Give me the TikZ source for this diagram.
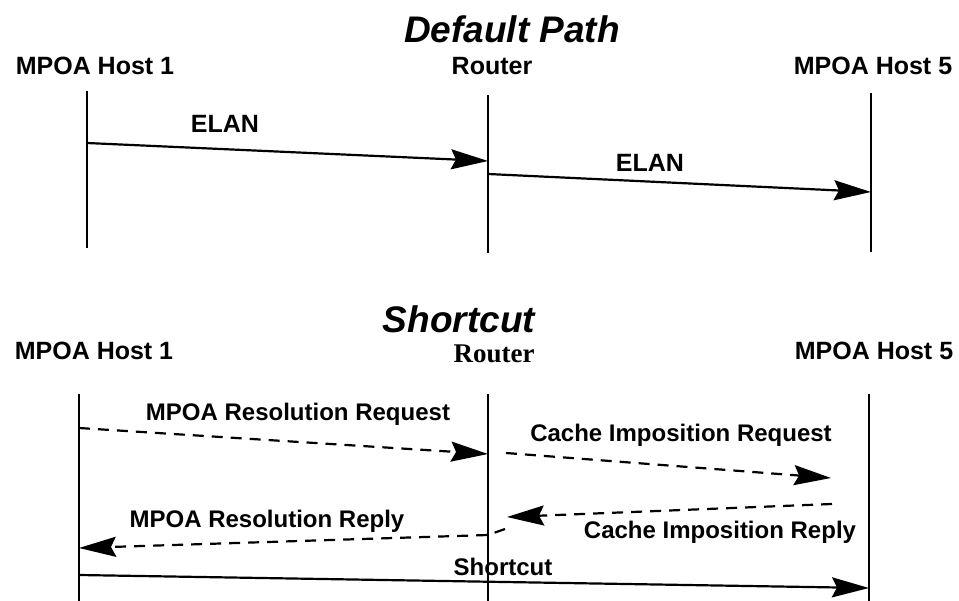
\documentclass[tikz,border=0pt]{standalone}
\usepackage{fontspec}
\setmainfont{Liberation Sans}
\newfontfamily\serifrouter{Liberation Serif}
\usetikzlibrary{arrows.meta, positioning, calc}

\begin{document}
\begin{tikzpicture}[x=1pt, y=-1pt,
    lifeline/.style={line width=2.2pt},
    msg/.style={line width=2.2pt, -{Stealth[length=37pt, width=20pt, inset=5pt]}},
    dmsg/.style={msg, dash pattern=on 11pt off 8pt},
    title/.style={anchor=base, font=\fontsize{37}{40}\selectfont\bfseries\itshape},
    host/.style={anchor=base, font=\fontsize{25}{28}\selectfont\bfseries},
    lbl/.style={anchor=base, font=\fontsize{24}{28}\selectfont\bfseries}]
    \useasboundingbox (0,0) rectangle (959,601);

    % Default path: titles and lifelines
    \node[title] (dtitle) at (512,43) {Default Path};
    \node[host] (dhostA) at (95,75) {MPOA Host 1};
    \node[host] (drouter) at (492,75) {Router};
    \node[host] (dhostB) at (873,75) {MPOA Host 5};
    \coordinate (dA1) at (87,91);   \coordinate (dA2) at (87,248);
    \coordinate (dR1) at (488,95);  \coordinate (dR2) at (488,253);
    \coordinate (dB1) at (871,93);  \coordinate (dB2) at (871,252);
    \draw[lifeline] (dA1) -- (dA2);
    \draw[lifeline] (dR1) -- (dR2);
    \draw[lifeline] (dB1) -- (dB2);

    % Default path: messages
    \coordinate (elanAs) at (87,143);  \coordinate (elanAe) at (488,161);
    \coordinate (elanBs) at (488,174); \coordinate (elanBe) at (871,192);
    \draw[msg] (elanAs) -- (elanAe);
    \draw[msg] (elanBs) -- (elanBe);
    \node[host] (elanA) at (225,133) {ELAN};
    \node[host] (elanB) at (650,172) {ELAN};

    % Shortcut: titles and lifelines
    \node[title] (stitle) at (459,333) {Shortcut};
    \node[host] (shostA) at (94,360) {MPOA Host 1};
    \node[anchor=base, font=\fontsize{27}{30}\selectfont\serifrouter\bfseries] (srouter) at (494,363) {Router};
    \node[host] (shostB) at (874,360) {MPOA Host 5};
    \coordinate (sA1) at (79,394);  \coordinate (sA2) at (79,601);
    \coordinate (sR1) at (488,394); \coordinate (sR2) at (488,601);
    \coordinate (sB1) at (869,394); \coordinate (sB2) at (869,601);
    \draw[lifeline] (sA1) -- (sA2);
    \draw[lifeline] (sR1) -- (sR2);
    \draw[lifeline] (sB1) -- (sB2);

    % Shortcut: resolution and imposition messages
    \coordinate (resqs) at (79,428);  \coordinate (resqe) at (488,454);
    \coordinate (cimqs) at (506,453); \coordinate (cimqe) at (831,478);
    \coordinate (cimps) at (832,504); \coordinate (cimpe) at (507,517);
    \coordinate (resps) at (505,529); \coordinate (respk) at (488,535);
    \coordinate (respe) at (79,548);
    \draw[dmsg] (resqs) -- (resqe);
    \draw[dmsg] (cimqs) -- (cimqe);
    \draw[dmsg] (cimps) -- (cimpe);
    \draw[dmsg] (resps) -- (respk) -- (respe);
    \node[lbl] (resq) at (298,421) {MPOA Resolution Request};
    \node[lbl] (cimq) at (681,442) {Cache Imposition Request};
    \node[lbl] (resp) at (267,527) {MPOA Resolution Reply};
    \node[lbl] (cimp) at (720,538) {Cache Imposition Reply};

    % Shortcut path
    \coordinate (scs) at (79,575); \coordinate (sce) at (869,588);
    \draw[msg] (scs) -- (sce);
    \node[lbl] (sc) at (503,575) {Shortcut};
\end{tikzpicture}
\end{document}
